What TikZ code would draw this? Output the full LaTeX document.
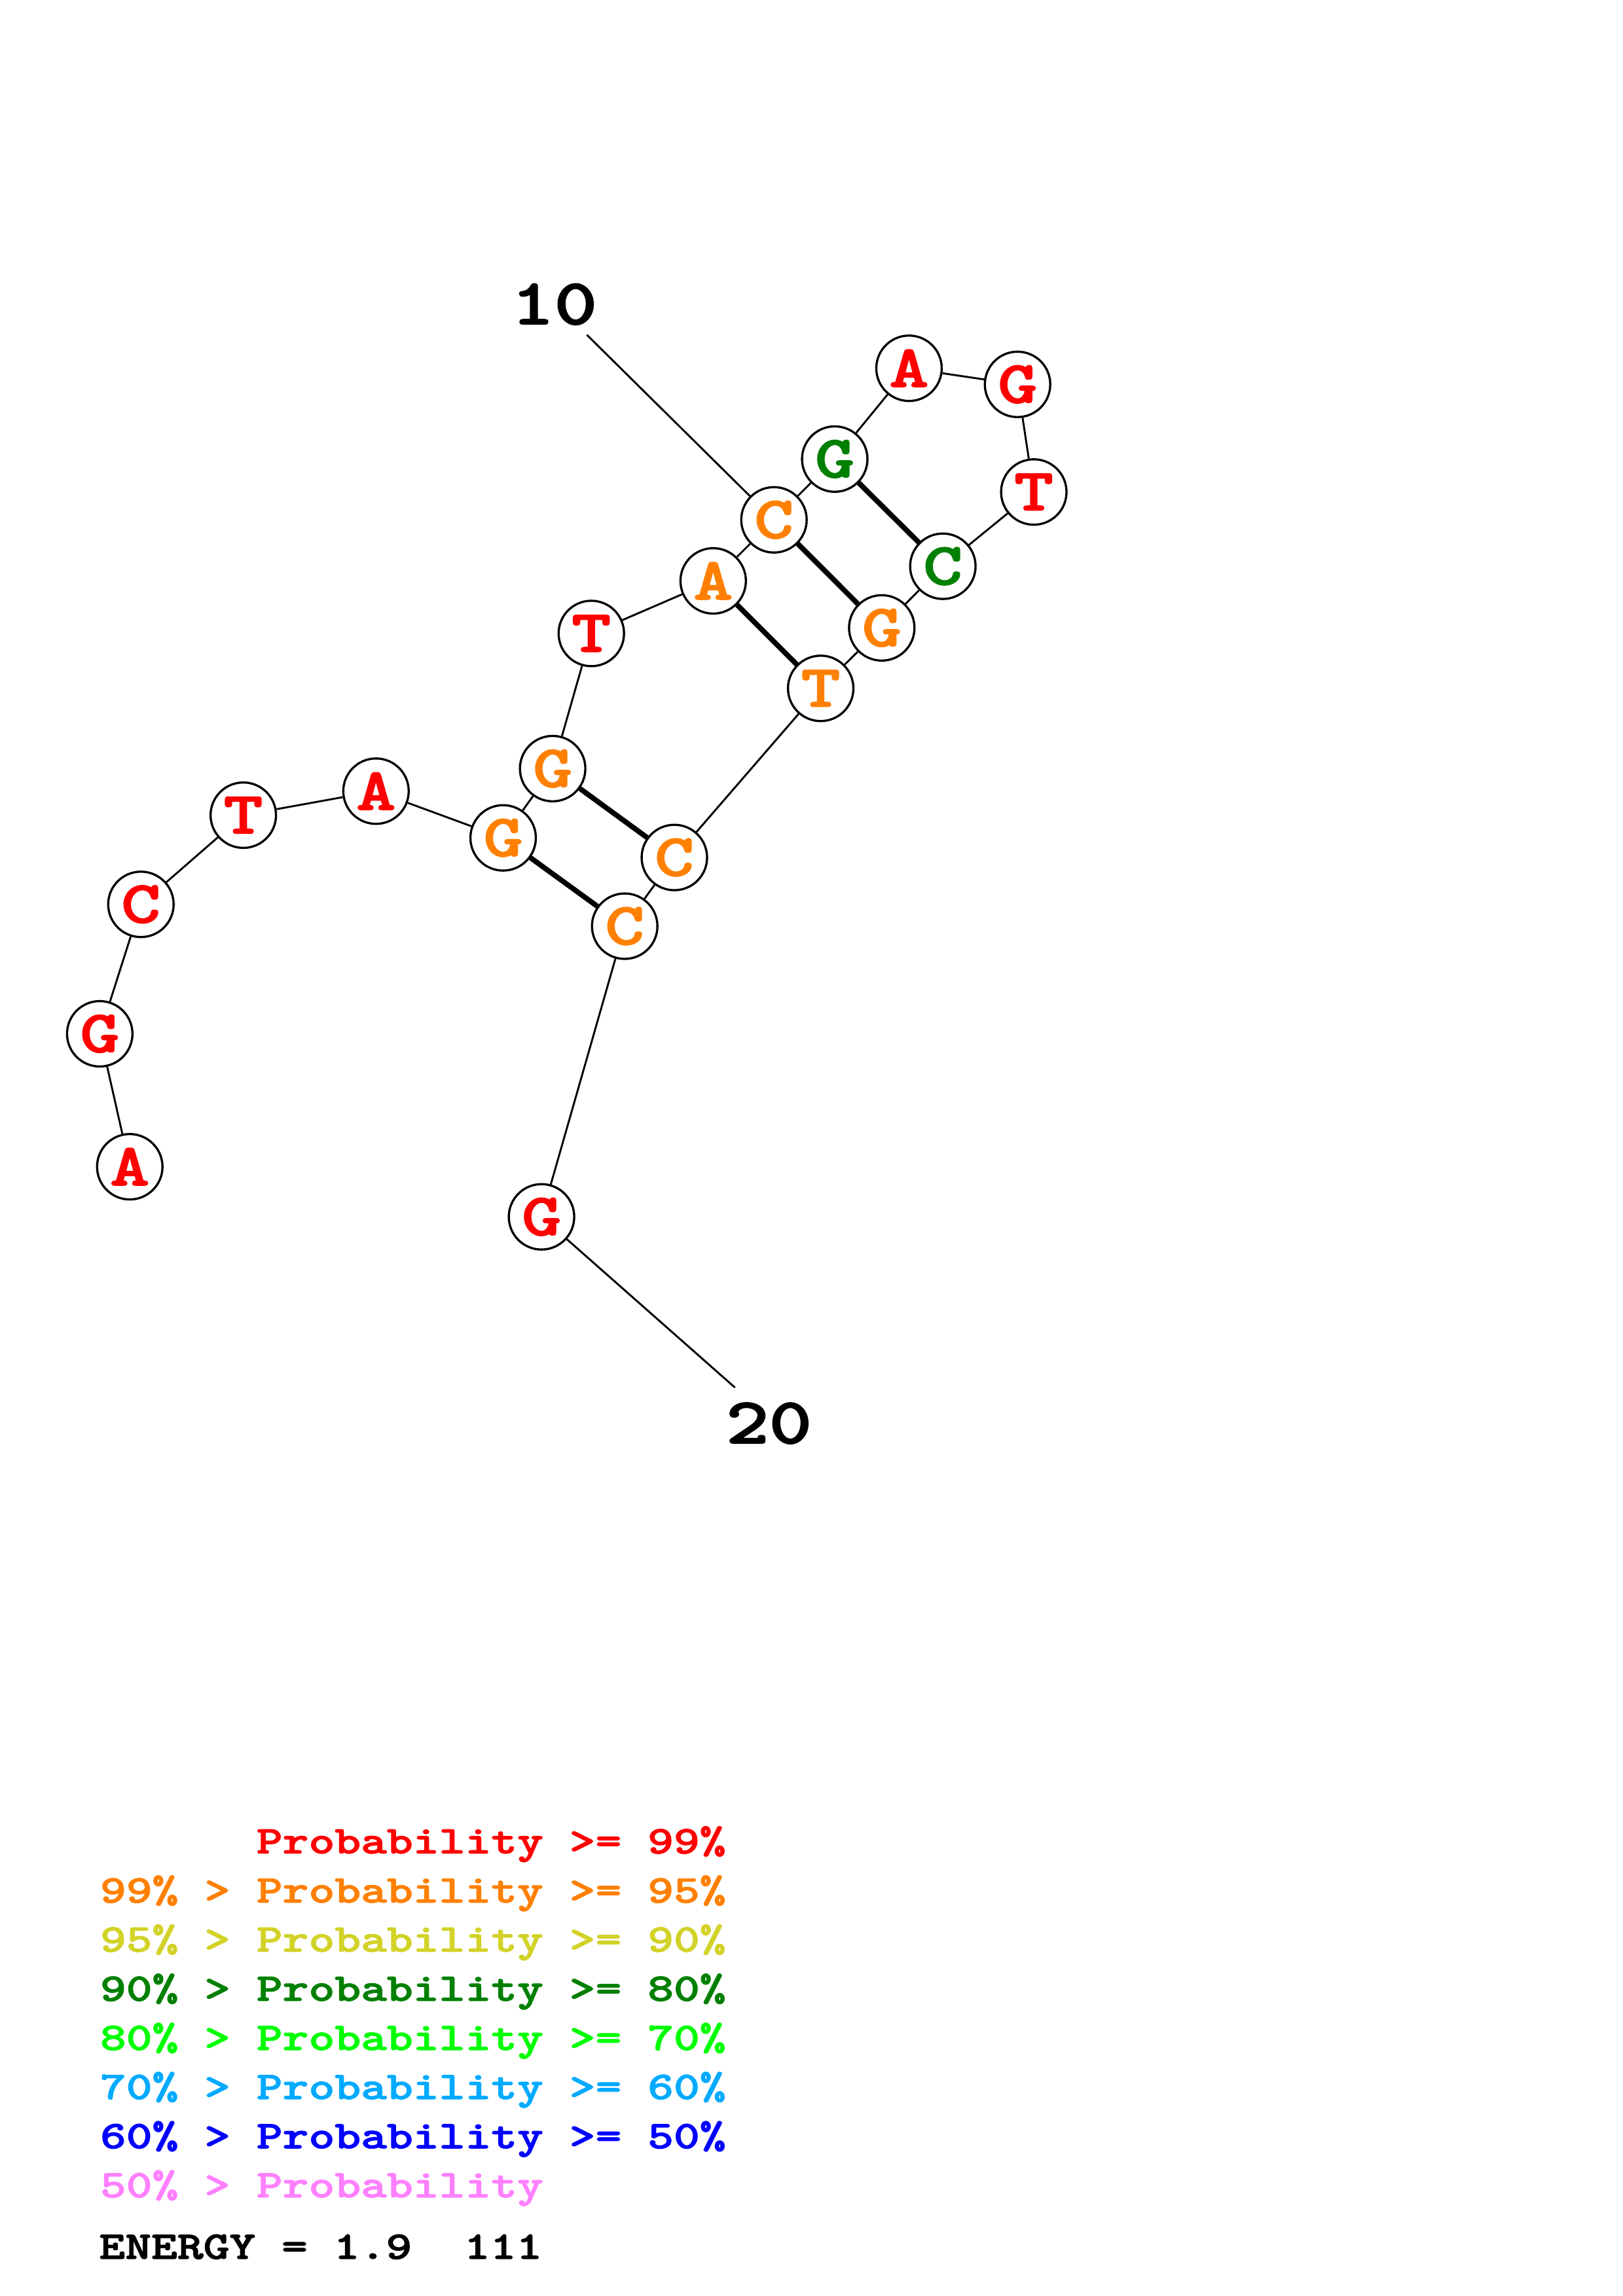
\documentclass[tikz,border=0pt]{standalone}
\usepackage{fontspec}
\newfontfamily\cbold{lmmonolt10-bold}[Extension=.otf, FakeBold=1.6]
\definecolor{pred}{RGB}{255,0,0}
\definecolor{porange}{RGB}{255,128,0}
\definecolor{pyellow}{RGB}{210,210,40}
\definecolor{pdgreen}{RGB}{0,128,0}
\definecolor{pgreen}{RGB}{0,255,0}
\definecolor{plblue}{RGB}{0,170,255}
\definecolor{pblue}{RGB}{0,0,255}
\definecolor{ppink}{RGB}{255,128,255}
\newcommand{\ntxt}[1]{\scalebox{1.25}[1]{#1}}
\newcommand{\ltxt}[1]{\scalebox{1.265}[1]{#1}}
\begin{document}
\begin{tikzpicture}[x=0.5373pt,y=-0.5373pt,
  base/.style={circle,draw=black,line width=0.8pt,fill=white,inner sep=0pt,minimum size=24pt,
    font=\fontsize{22}{22}\selectfont\cbold},
  bb/.style={line width=0.7pt,draw=black},
  pairline/.style={line width=1.9pt,draw=black},
  numlabel/.style={inner sep=0pt,font=\fontsize{24}{24}\selectfont\cbold},
  legend/.style={anchor=base west,inner sep=0pt,font=\fontsize{14.4}{14.4}\selectfont\cbold}]
\useasboundingbox[fill=white] (0,0) rectangle (1108,1568);
% coordinates
\coordinate (p1) at (88.6,796.8);
\coordinate (p2) at (68.1,706);
\coordinate (p3) at (96.2,617.6);
\coordinate (p4) at (166.1,556.7);
\coordinate (p5) at (256.7,540.3);
\coordinate (p6) at (343.5,572.2);
\coordinate (p7) at (377.3,524.9);
\coordinate (p8) at (403.7,432.6);
\coordinate (p9) at (486.9,396.7);
\coordinate (p10) at (528.4,355.0);
\coordinate (p11) at (569.9,313.5);
\coordinate (p12) at (620.6,251.5);
\coordinate (p13) at (694.7,262.5);
\coordinate (p14) at (705.8,336);
\coordinate (p15) at (643.7,386.7);
\coordinate (p16) at (602,428.8);
\coordinate (p17) at (560.3,470.1);
\coordinate (p18) at (460.4,585.6);
\coordinate (p19) at (426.5,632.5);
\coordinate (p20) at (369.7,831);
% nucleotides
\node[base,text=pred]    (n1)  at (p1)  {\ntxt{A}};
\node[base,text=pred]    (n2)  at (p2)  {\ntxt{G}};
\node[base,text=pred]    (n3)  at (p3)  {\ntxt{C}};
\node[base,text=pred]    (n4)  at (p4)  {\ntxt{T}};
\node[base,text=pred]    (n5)  at (p5)  {\ntxt{A}};
\node[base,text=porange] (n6)  at (p6)  {\ntxt{G}};
\node[base,text=porange] (n7)  at (p7)  {\ntxt{G}};
\node[base,text=pred]    (n8)  at (p8)  {\ntxt{T}};
\node[base,text=porange] (n9)  at (p9)  {\ntxt{A}};
\node[base,text=porange] (n10) at (p10) {\ntxt{C}};
\node[base,text=pdgreen] (n11) at (p11) {\ntxt{G}};
\node[base,text=pred]    (n12) at (p12) {\ntxt{A}};
\node[base,text=pred]    (n13) at (p13) {\ntxt{G}};
\node[base,text=pred]    (n14) at (p14) {\ntxt{T}};
\node[base,text=pdgreen] (n15) at (p15) {\ntxt{C}};
\node[base,text=porange] (n16) at (p16) {\ntxt{G}};
\node[base,text=porange] (n17) at (p17) {\ntxt{T}};
\node[base,text=porange] (n18) at (p18) {\ntxt{C}};
\node[base,text=porange] (n19) at (p19) {\ntxt{C}};
\node[base,text=pred]    (n20) at (p20) {\ntxt{G}};
% backbone
\foreach \a/\b in {1/2,2/3,3/4,4/5,5/6,6/7,7/8,8/9,9/10,10/11,11/12,12/13,13/14,14/15,15/16,16/17,17/18,18/19,19/20}
  \draw[bb] (n\a) -- (n\b);
% pairs
\foreach \a/\b in {6/19,7/18,9/17,10/16,11/15}
  \draw[pairline] (n\a) -- (n\b);
% number labels
\node[numlabel] (lab10) at (378.4,207.8) {\ntxt{10}};
\node[numlabel] (lab20) at (525,972) {\ntxt{20}};
\coordinate (t10) at (400.7,228.7);
\coordinate (t20) at (501.8,947.6);
\draw[bb] (t10) -- (n10);
\draw[bb] (n20) -- (t20);
% legend
\node[legend,text=pred]    (g1) at (68,1265.7) {\ltxt{\phantom{99\% > }Probability >= 99\%}};
\node[legend,text=porange] (g2) at (68,1299.3) {\ltxt{99\% > Probability >= 95\%}};
\node[legend,text=pyellow] (g3) at (68,1332.8) {\ltxt{95\% > Probability >= 90\%}};
\node[legend,text=pdgreen] (g4) at (68,1366.4) {\ltxt{90\% > Probability >= 80\%}};
\node[legend,text=pgreen]  (g5) at (68,1400.0) {\ltxt{80\% > Probability >= 70\%}};
\node[legend,text=plblue]  (g6) at (68,1433.5) {\ltxt{70\% > Probability >= 60\%}};
\node[legend,text=pblue]   (g7) at (68,1467.1) {\ltxt{60\% > Probability >= 50\%}};
\node[legend,text=ppink]   (g8) at (68,1500.6) {\ltxt{50\% > Probability}};
\node[legend,text=black]   (en) at (67.3,1542.6) {\ltxt{ENERGY = 1.9\ \ 111}};
\end{tikzpicture}
\end{document}
